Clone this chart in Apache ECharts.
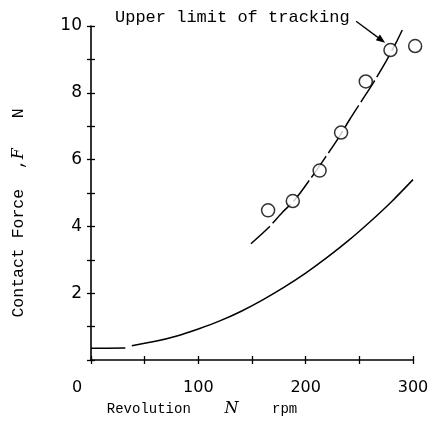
<!DOCTYPE html>
<html>
<head>
<meta charset="utf-8">
<script src="https://cdn.jsdelivr.net/npm/echarts@6/dist/echarts.min.js"></script>
<style>
  html, body { margin: 0; padding: 0; background: #fff; }
  #chart { width: 440px; height: 426px; }
</style>
</head>
<body>
<div id="chart"></div>
<script>
// measured contact force (circles)
const measX = [165, 188, 213, 233, 256, 279, 302];
const measY = [4.48, 4.76, 5.67, 6.81, 8.34, 9.28, 9.40];

// upper fitted curve (dashed)
const upperX = [149, 165, 178, 190, 205, 218, 230, 241, 252, 263, 275, 285, 290];
const upperY = [3.48, 3.95, 4.41, 4.80, 5.45, 6.05, 6.62, 7.20, 7.75, 8.30, 8.95, 9.55, 9.88];

// lower curve, short flat piece then the main part
const lowStartX = [0, 15, 32];
const lowStartY = [0.35, 0.35, 0.36];
const lowerX = [38, 60, 80, 100, 120, 140, 160, 180, 200, 220, 240, 260, 280, 300];
const lowerY = [0.43, 0.56, 0.72, 0.93, 1.17, 1.46, 1.80, 2.18, 2.60, 3.07, 3.58, 4.14, 4.74, 5.40];

// arrow of the annotation
const arrowFrom = [247, 10.14];
const arrowTo = [274, 9.5];

const xLabels = [0, 100, 200, 300];
const yLabels = [2, 4, 6, 8, 10];

const pairs = (xs, ys) => xs.map((x, i) => [x, ys[i]]);

const chart = echarts.init(document.getElementById('chart'));

const mono = 'Liberation Mono, DejaVu Sans Mono, monospace';
const sans = 'DejaVu Sans, sans-serif';

const option = {
  animation: false,
  backgroundColor: '#fff',
  grid: { left: 91, right: 27, top: 26, bottom: 66 },
  xAxis: [
    {
      type: 'value', min: 0, max: 300, interval: 50, position: 'bottom',
      axisLine: { lineStyle: { color: '#000', width: 1.6 } },
      axisTick: { show: true, length: 4, lineStyle: { color: '#000', width: 1.3 } },
      splitLine: { show: false },
      axisLabel: {
        margin: 20, color: '#000', fontFamily: sans, fontSize: 16,
        formatter: v => {
          if (v === 0) return '{o|0}';
          return xLabels.includes(v) ? String(v) : '';
        },
        rich: { o: { padding: [0, 28, 0, 0], fontFamily: sans, fontSize: 16, color: '#000' } }
      },
      name: 'Revolution    {i|N}    rpm',
      nameLocation: 'middle',
      nameGap: 38,
      nameTextStyle: {
        fontFamily: mono, fontSize: 14, color: '#000',
        padding: [0, 100, 0, 0],
        rich: { i: { fontFamily: 'DejaVu Serif, serif', fontStyle: 'italic', fontSize: 16, color: '#000' } }
      }
    },
    {
      type: 'value', min: 0, max: 300, interval: 50, position: 'bottom',
      axisLine: { show: false },
      axisTick: { show: true, inside: true, length: 4, lineStyle: { color: '#000', width: 1.3 } },
      axisLabel: { show: false },
      splitLine: { show: false }
    }
  ],
  yAxis: [
    {
      type: 'value', min: 0, max: 10, interval: 1, position: 'left',
      axisLine: { show: true, lineStyle: { color: '#000', width: 1.6 } },
      axisTick: { show: true, length: 4, lineStyle: { color: '#000', width: 1.3 } },
      splitLine: { show: false },
      axisLabel: {
        margin: 9, color: '#000', fontFamily: sans, fontSize: 17,
        formatter: v => (yLabels.includes(v) ? String(v) : '')
      },
      name: 'Contact Force  ,{i|F}   N',
      nameLocation: 'middle',
      nameGap: 64,
      nameRotate: 90,
      nameTextStyle: {
        fontFamily: mono, fontSize: 16.5, color: '#000',
        padding: [0, 40, 0, 0],
        rich: { i: { fontFamily: 'DejaVu Serif, serif', fontStyle: 'italic', fontSize: 16, color: '#000' } }
      }
    },
    {
      type: 'value', min: 0, max: 10, interval: 1, position: 'left',
      axisLine: { show: false },
      axisTick: { show: true, inside: true, length: 4, lineStyle: { color: '#000', width: 1.3 } },
      axisLabel: { show: false },
      splitLine: { show: false }
    }
  ],
  series: [
    {
      type: 'line', data: pairs(lowStartX, lowStartY), showSymbol: false,
      lineStyle: { color: '#000', width: 1.5 }, z: 2
    },
    {
      type: 'line', data: pairs(lowerX, lowerY), showSymbol: false, smooth: 0.3,
      lineStyle: { color: '#000', width: 1.5 }, z: 2
    },
    {
      type: 'line', data: pairs(upperX, upperY), showSymbol: false, smooth: 0.3,
      lineStyle: { color: '#000', width: 1.5, type: [26, 4] }, z: 2
    },
    {
      type: 'scatter', data: pairs(measX, measY), clip: false,
      symbol: 'circle', symbolSize: 13,
      itemStyle: { color: '#fff', borderColor: '#000', borderWidth: 1.5 },
      z: 3
    }
  ]
};

chart.setOption(option);

// annotation text and arrow, placed through the chart's own scales
const p1 = chart.convertToPixel({ gridIndex: 0 }, arrowFrom);
const p2 = chart.convertToPixel({ gridIndex: 0 }, arrowTo);
const ang = Math.atan2(p2[1] - p1[1], p2[0] - p1[0]);
const headLen = 9, headW = 3.5;
const base = [p2[0] - headLen * Math.cos(ang), p2[1] - headLen * Math.sin(ang)];
const nx = -Math.sin(ang), ny = Math.cos(ang);

chart.setOption({
  graphic: [
    {
      type: 'text', left: 115, top: 9,
      style: { text: 'Upper limit of tracking', font: '17px ' + mono, fill: '#000' }
    },
    {
      type: 'line', z: 10,
      shape: { x1: p1[0], y1: p1[1], x2: base[0], y2: base[1] },
      style: { stroke: '#000', lineWidth: 1.3 }
    },
    {
      type: 'polygon', z: 10,
      shape: {
        points: [
          [p2[0], p2[1]],
          [base[0] + nx * headW, base[1] + ny * headW],
          [base[0] - nx * headW, base[1] - ny * headW]
        ]
      },
      style: { fill: '#000' }
    }
  ]
});
</script>
</body>
</html>
